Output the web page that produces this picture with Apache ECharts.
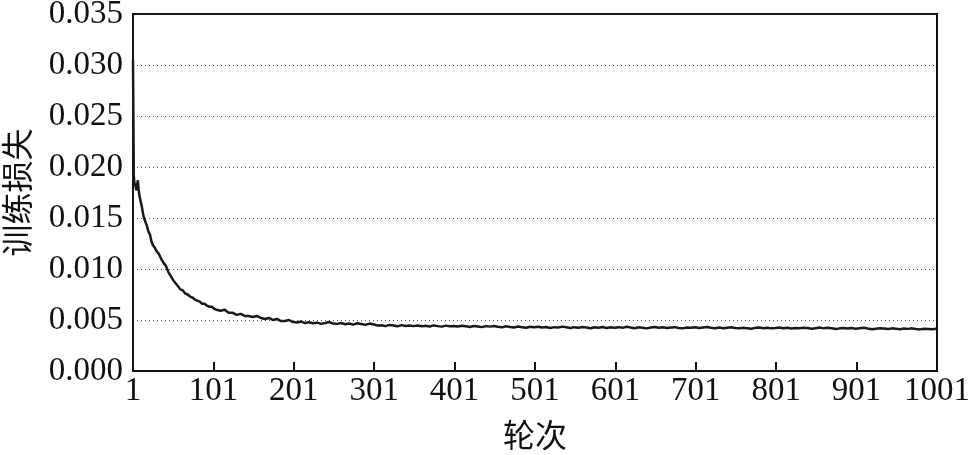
<!DOCTYPE html>
<html>
<head>
<meta charset="utf-8">
<script src="https://cdn.jsdelivr.net/npm/echarts@6/dist/echarts.min.js"></script>
<style>html,body{margin:0;padding:0;background:#fff}#c{width:975px;height:455px}</style>
</head>
<body>
<div id="c"></div>
<script>
// x tick labels (epochs)
const xTicks = [1, 101, 201, 301, 401, 501, 601, 701, 801, 901, 1001];
// y ticks
const yTicks = [0, 0.005, 0.010, 0.015, 0.020, 0.025, 0.030, 0.035];

// early epochs (dense sampling)
const epochsEarly = [1,2,3,4,5,6,7,8,9,10,12,14,16,18,20,22,24,26,28,30,33,36,39,42,45,48,51,54,57,60,63,66,69,72,75,78,81,84,87,90,93,96,99,102];
const lossEarly = [0.0305,0.0192,0.0181,0.0184,0.0177,0.0182,0.0187,0.0178,0.0172,0.0168,0.0161,0.0152,0.0147,0.0143,0.0137,0.0134,0.0127,0.0123,0.0121,0.0118,0.0115,0.0110,0.0106,0.0103,0.0097,0.0093,0.0089,0.0086,0.0083,0.0080,0.0079,0.0076,0.0075,0.0073,0.0072,0.0070,0.0069,0.0068,0.0066,0.0066,0.0064,0.0063,0.0063,0.0061];

// later epochs, every 5 epochs
const epochsLate = [
105,110,115,120,125,130,135,140,145,150,
155,160,165,170,175,180,185,190,195,200,
205,210,215,220,225,230,235,240,245,250,
255,260,265,270,275,280,285,290,295,300,
305,310,315,320,325,330,335,340,345,350,
355,360,365,370,375,380,385,390,395,400,
405,410,415,420,425,430,435,440,445,450,
455,460,465,470,475,480,485,490,495,500,
505,510,515,520,525,530,535,540,545,550,
555,560,565,570,575,580,585,590,595,600,
605,610,615,620,625,630,635,640,645,650,
655,660,665,670,675,680,685,690,695,700,
705,710,715,720,725,730,735,740,745,750,
755,760,765,770,775,780,785,790,795,800,
805,810,815,820,825,830,835,840,845,850,
855,860,865,870,875,880,885,890,895,900,
905,910,915,920,925,930,935,940,945,950,
955,960,965,970,975,980,985,990,995,1000,
1001];
const lossLate = [
0.0060,0.0059,0.0060,0.0057,0.0057,0.0055,0.0056,0.0054,0.0054,0.0053,
0.0054,0.0052,0.0051,0.0052,0.0050,0.0051,0.0049,0.0049,0.0050,0.0048,
0.00475,0.00485,0.00470,0.00478,0.00468,0.00474,0.00462,0.00470,0.00480,0.00465,
0.00462,0.00470,0.00458,0.00466,0.00455,0.00468,0.00460,0.00452,0.00465,0.00458,
0.00445,0.00448,0.00440,0.00452,0.00446,0.00438,0.00450,0.00442,0.00447,0.00440,
0.00446,0.00438,0.00444,0.00436,0.00447,0.00440,0.00435,0.00445,0.00438,0.00442,
0.00436,0.00444,0.00438,0.00432,0.00442,0.00437,0.00430,0.00440,0.00435,0.00441,
0.00433,0.00428,0.00438,0.00432,0.00426,0.00436,0.00430,0.00424,0.00433,0.00428,
0.00434,0.00426,0.00432,0.00422,0.00430,0.00427,0.00435,0.00428,0.00421,0.00430,
0.00425,0.00432,0.00426,0.00420,0.00429,0.00424,0.00431,0.00422,0.00428,0.00425,
0.00430,0.00423,0.00433,0.00426,0.00420,0.00428,0.00424,0.00418,0.00427,0.00432,
0.00424,0.00429,0.00421,0.00426,0.00430,0.00422,0.00418,0.00427,0.00423,0.00428,
0.00421,0.00427,0.00432,0.00424,0.00420,0.00426,0.00419,0.00425,0.00429,0.00422,
0.00418,0.00425,0.00420,0.00414,0.00423,0.00427,0.00420,0.00424,0.00418,0.00422,
0.00427,0.00420,0.00424,0.00416,0.00422,0.00419,0.00425,0.00421,0.00414,0.00420,
0.00426,0.00418,0.00423,0.00419,0.00412,0.00418,0.00422,0.00417,0.00421,0.00415,
0.00420,0.00424,0.00416,0.00409,0.00415,0.00420,0.00417,0.00412,0.00418,0.00414,
0.00410,0.00416,0.00413,0.00418,0.00411,0.00408,0.00415,0.00412,0.00409,0.00414,
0.00413];

const xName = '轮次';
const yName = '训练损失';

const epochs = epochsEarly.concat(epochsLate);
const loss = lossEarly.concat(lossLate);
const seriesData = epochs.map((e, i) => [e, loss[i]]);

const serif = '"Liberation Serif", "DejaVu Serif", serif';
const cjk = '"Noto Sans CJK SC", sans-serif';

const chart = echarts.init(document.getElementById('c'), null, {renderer: 'canvas'});
chart.setOption({
  animation: false,
  backgroundColor: '#fff',
  grid: {
    left: 133, right: 38, top: 14, bottom: 84,
    containLabel: false,
    outerBoundsMode: 'none',
    show: true, borderColor: '#111', borderWidth: 2, backgroundColor: 'transparent'
  },
  xAxis: {
    type: 'value',
    min: 1, max: 1001,
    name: xName,
    nameLocation: 'middle',
    nameGap: 48,
    nameTextStyle: {fontFamily: cjk, fontSize: 32, color: '#111'},
    axisLine: {show: true, lineStyle: {color: '#111', width: 2}},
    axisTick: {show: true, inside: true, length: 9, lineStyle: {color: '#111', width: 2}, customValues: xTicks},
    axisLabel: {customValues: xTicks, fontFamily: serif, fontSize: 33, color: '#111', margin: 4,
      formatter: v => String(v)},
    splitLine: {show: false}
  },
  yAxis: {
    type: 'value',
    min: 0, max: 0.035, interval: 0.005,
    name: yName,
    nameLocation: 'middle',
    nameGap: 100,
    nameRotate: 90,
    nameTextStyle: {fontFamily: cjk, fontSize: 32, color: '#111'},
    axisLine: {show: true, lineStyle: {color: '#111', width: 2}},
    axisTick: {show: false},
    axisLabel: {
      customValues: yTicks,
      fontFamily: serif, fontSize: 33, color: '#111', margin: 10,
      formatter: v => v.toFixed(3)
    },
    splitLine: {show: true, lineStyle: {color: '#555', width: 1, type: [1, 3]}}
  },
  series: [{
    type: 'line',
    data: seriesData,
    showSymbol: false,
    symbol: 'none',
    lineStyle: {color: '#1a1a1a', width: 2.5},
    z: 3
  }]
});
</script>
</body>
</html>
